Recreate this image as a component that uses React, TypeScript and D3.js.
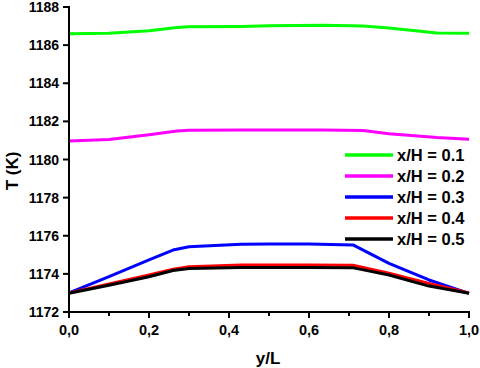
import React from "react";
import * as d3 from "d3";

const xs01 = [0, 0.1, 0.2, 0.27, 0.3, 0.43, 0.5, 0.635, 0.735, 0.8, 0.92, 1.0];
const green = [1186.6, 1186.62, 1186.75, 1186.92, 1186.96, 1186.98, 1187.02, 1187.04, 1187.0, 1186.9, 1186.64, 1186.62];
const magenta = [1180.97, 1181.05, 1181.3, 1181.5, 1181.53, 1181.55, 1181.55, 1181.55, 1181.52, 1181.35, 1181.15, 1181.06];

const xsLow = [0, 0.1, 0.2, 0.26, 0.3, 0.43, 0.5, 0.6, 0.71, 0.727, 0.8, 0.9, 1.0];
const blue = [1173.0, 1173.85, 1174.73, 1175.25, 1175.42, 1175.55, 1175.57, 1175.57, 1175.52, 1175.34, 1174.55, 1173.68, 1172.98];
const red = [1173.0, 1173.47, 1173.94, 1174.25, 1174.38, 1174.46, 1174.47, 1174.47, 1174.45, 1174.38, 1174.03, 1173.5, 1173.0];
const black = [1172.98, 1173.4, 1173.85, 1174.18, 1174.28, 1174.33, 1174.34, 1174.34, 1174.32, 1174.25, 1173.94, 1173.36, 1172.98];

const seriesNames = ["x/H = 0.1", "x/H = 0.2", "x/H = 0.3", "x/H = 0.4", "x/H = 0.5"];
const seriesColors = ["#00ff00", "#ff00ff", "#0000ff", "#ff0000", "#000000"];
const xTicks = [0, 0.2, 0.4, 0.6, 0.8, 1.0];
const xMinor = [0.1, 0.3, 0.5, 0.7, 0.9];
const yTicks = [1172, 1174, 1176, 1178, 1180, 1182, 1184, 1186, 1188];

export default function App() {
  const W = 480, H = 368;
  const x = d3.scaleLinear().domain([0, 1]).range([69, 469]);
  const y = d3.scaleLinear().domain([1172, 1188]).range([312, 7]);
  const line = d3.line<[number, number]>().x(d => x(d[0])).y(d => y(d[1]));
  const series = [
    { xs: xs01, ys: green },
    { xs: xs01, ys: magenta },
    { xs: xsLow, ys: blue },
    { xs: xsLow, ys: red },
    { xs: xsLow, ys: black },
  ];
  const font = "'Liberation Sans', Arial, sans-serif";
  return (
    <svg width={W} height={H} style={{ position: "absolute", left: 0, top: 0, background: "#fff" }}>
      {series.map((s, i) => (
        <path key={i} d={line(s.xs.map((v, j) => [v, s.ys[j]]) as [number, number][]) || ""}
          fill="none" stroke={seriesColors[i]} strokeWidth={3} strokeLinejoin="round" />
      ))}
      {/* axes */}
      <line x1={x(0)} x2={x(0)} y1={y(1188) - 1} y2={y(1172) + 1} stroke="#000" strokeWidth={2} />
      <line x1={x(0) - 1} x2={x(1) + 1} y1={y(1172)} y2={y(1172)} stroke="#000" strokeWidth={2} />
      {yTicks.map(t => (
        <g key={t}>
          <line x1={x(0) - 6} x2={x(0)} y1={y(t)} y2={y(t)} stroke="#000" strokeWidth={2} />
          <text x={x(0) - 10} y={y(t)} dy="0.36em" textAnchor="end" fontFamily={font} fontWeight="bold" fontSize={14}>{t}</text>
        </g>
      ))}
      {xTicks.map(t => (
        <g key={t}>
          <line x1={x(t)} x2={x(t)} y1={y(1172)} y2={y(1172) + 6} stroke="#000" strokeWidth={2} />
          <text x={x(t)} y={y(1172) + 23} textAnchor="middle" fontFamily={font} fontWeight="bold" fontSize={14.5}>{d3.format(".1f")(t).replace(".", ",")}</text>
        </g>
      ))}
      {xMinor.map(t => (
        <line key={t} x1={x(t)} x2={x(t)} y1={y(1172)} y2={y(1172) + 4} stroke="#000" strokeWidth={2} />
      ))}
      <text x={268} y={364} textAnchor="middle" fontFamily={font} fontWeight="bold" fontSize={17}>y/L</text>
      <text transform={`translate(18,171) rotate(-90)`} textAnchor="middle" fontFamily={font} fontWeight="bold" fontSize={17}>T (K)</text>
      {seriesNames.map((n, i) => (
        <g key={n}>
          <line x1={345} x2={393} y1={155 + i * 21} y2={155 + i * 21} stroke={seriesColors[i]} strokeWidth={3.5} />
          <text x={397} y={155 + i * 21} dy="0.36em" fontFamily={font} fontWeight="bold" fontSize={16.5}>{n}</text>
        </g>
      ))}
    </svg>
  );
}
